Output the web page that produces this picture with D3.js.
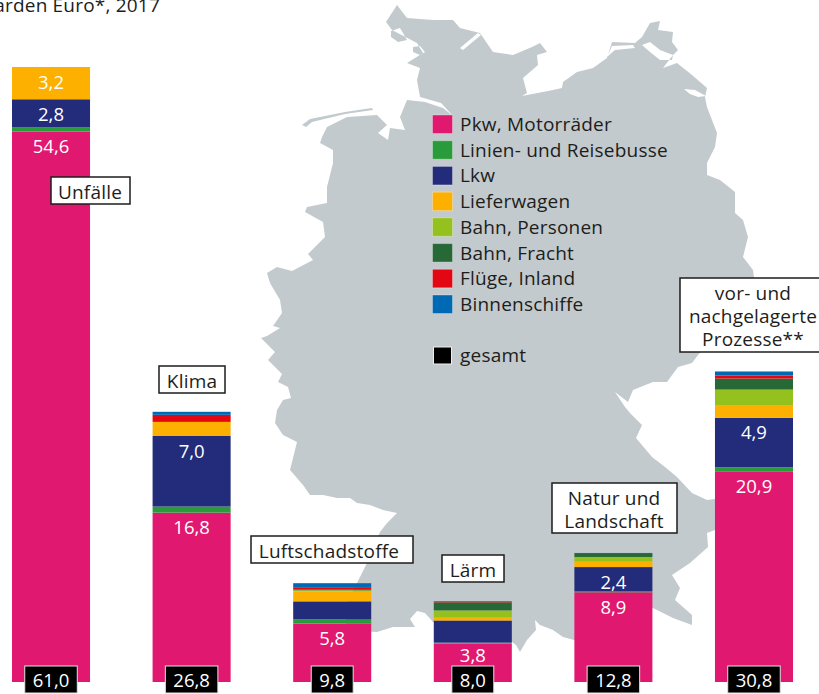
<!DOCTYPE html>
<html>
<head>
<meta charset="utf-8">
<script src="https://cdn.jsdelivr.net/npm/d3@7"></script>
<style>
    html, body { margin: 0; padding: 0; background: #fff; overflow: hidden; }
    text { font-family: "Open Sans", sans-serif; }
</style>
</head>
<body>
<div id="chart"></div>
<script>
const categories = ["Unfälle", "Klima", "Luftschadstoffe", "Lärm", "Natur und Landschaft", "vor- und nachgelagerte Prozesse**"];
const seriesNames = ["Pkw, Motorräder", "Linien- und Reisebusse", "Lkw", "Lieferwagen", "Bahn, Personen", "Bahn, Fracht", "Flüge, Inland", "Binnenschiffe"];
const seriesColors = ["#e1186f", "#2a9b3b", "#232c7a", "#fdb000", "#95c11f", "#266936", "#e30613", "#0069b4"];

const pkw = [54.6, 16.8, 5.8, 3.8, 8.9, 20.9];
const busse = [0.4, 0.6, 0.4, 0.1, 0.1, 0.4];
const lkw = [2.8, 7.0, 1.8, 2.2, 2.4, 4.9];
const lieferwagen = [3.2, 1.4, 1.0, 0.3, 0.55, 1.2];
const bahnPersonen = [0, 0, 0.1, 0.7, 0.45, 1.6];
const bahnFracht = [0, 0, 0.1, 0.8, 0.3, 1.1];
const fluege = [0, 0.7, 0.2, 0.1, 0, 0.3];
const schiffe = [0, 0.3, 0.4, 0, 0.1, 0.4];
const totals = [61.0, 26.8, 9.8, 8.0, 12.8, 30.8];

// category label boxes: text lines only, the boxes are placed further down
const labelLines = [["Unfälle"], ["Klima"], ["Luftschadstoffe"], ["Lärm"], ["Natur und", "Landschaft"], ["vor- und", "nachgelagerte", "Prozesse**"]];

// backdrop map, in picture units
const germanyOutline = [
    [397,5],[407,18],[433,20],[453,20],[460,28],[480,33],[493,52],[513,55],[532,47],[540,43],[547,52],[537,55],[538,65],
    [523,78],[527,93],[522,96],[553,90],[562,88],[563,82],[577,72],[593,68],[607,58],[612,42],[635,43],[642,37],[650,23],
    [660,21],[658,30],[673,32],[672,42],[678,50],[673,55],[663,68],[677,63],[692,75],[707,88],[705,97],[707,107],[717,133],
    [715,147],[707,163],[707,175],[720,180],[735,192],[735,213],[743,220],[748,237],[743,257],[753,270],[754,278],[745,305],
    [698,355],[692,363],[678,367],[667,382],[653,382],[633,390],[628,402],[615,392],[625,407],[630,413],[642,425],[636,438],
    [652,457],[665,467],[677,477],[692,493],[707,500],[730,497],[735,525],[715,530],[707,533],[708,547],[690,563],[672,575],
    [680,588],[675,600],[692,615],[692,625],[673,618],[653,608],[590,640],[574,640],[563,637],[553,630],[540,625],[535,620],
    [536,630],[527,640],[520,652],[516,645],[512,642],[480,635],[433,622],[425,613],[417,611],[410,619],[415,627],[393,627],
    [377,632],[345,630],[348,600],[357,583],[367,563],[380,532],[387,523],[397,513],[383,510],[370,505],[357,503],[350,498],
    [337,498],[323,495],[310,495],[303,485],[290,470],[297,442],[283,435],[275,423],[277,410],[283,400],[291,398],[288,387],
    [278,382],[282,374],[268,360],[275,352],[268,345],[261,338],[267,336],[280,328],[273,326],[282,313],[280,300],[270,283],
    [267,273],[277,267],[292,271],[313,260],[308,254],[325,237],[323,222],[305,212],[307,207],[327,203],[327,187],[333,163],
    [333,150],[320,143],[322,137],[327,127],[347,117],[377,115],[387,125],[378,133],[388,140],[390,128],[405,130],[400,117],
    [407,100],[425,102],[443,108],[453,116],[441,103],[420,97],[417,80],[420,68],[407,63],[423,53],[417,43],[392,30],[386,22],[397,5]
];
// inlets and lagoons cut out of the map
const germanyHoles = [
    [[391,31],[400,28],[407,40],[398,42],[391,37],[391,31]],
    [[413,47],[420,46],[425,52],[420,55],[413,52],[413,47]],
    [[460,48],[478,33],[481,35],[463,50],[460,48]],
    [[607,57],[612,46],[633,45],[635,48],[615,50],[607,57]],
    [[642,45],[650,52],[660,60],[672,60],[673,55],[660,50],[650,42],[642,45]],
    [[684,89],[695,90],[706,96],[698,97],[690,94],[684,89]]
];
// East Frisian islands, a thin strip off the coast
const frisianIslands = [[302,125],[310,119],[345,112],[372,108],[373,110],[345,114],[312,122],[306,127],[302,125]];

function draw_chart() {
    const width = 819, height = 694;
    const textSize = "19px";
    const textSpacing = "0.2px";

    const svg = d3.select("#chart")
        .append("svg")
        .attr("width", width)
        .attr("height", height);

    // map in the background
    const mapShape = {type: "MultiPolygon", coordinates: [[germanyOutline].concat(germanyHoles), [frisianIslands]]};
    svg.append("path")
        .datum(mapShape)
        .attr("d", d3.geoPath(d3.geoIdentity()))
        .attr("fill", "#c3cacd")
        .attr("fill-rule", "evenodd");

    // title, its left part runs off the cut edge of the picture
    svg.append("text")
        .attr("x", 160)
        .attr("y", 12)
        .attr("text-anchor", "end")
        .style("font-size", textSize)
        .style("letter-spacing", textSpacing)
        .attr("fill", "#1d1d1b")
        .text("Milliarden Euro*, 2017");

    // Build scales
    const x = d3.scaleBand()
        .domain(categories)
        .range([12, 793])
        .paddingInner(0.445)
        .paddingOuter(0);

    const y = d3.scaleLinear()
        .domain([0, 61])
        .range([682, 67]);

    const rows = categories.map((c, i) => {
        const row = {category: c};
        [pkw, busse, lkw, lieferwagen, bahnPersonen, bahnFracht, fluege, schiffe].forEach((s, j) => {
            row[seriesNames[j]] = s[i];
        });
        return row;
    });
    const stacked = d3.stack().keys(seriesNames)(rows);
    const color = d3.scaleOrdinal().domain(seriesNames).range(seriesColors);

    // stacked bars
    const layers = svg.selectAll(".layer")
        .data(stacked)
        .join("g")
        .attr("class", "layer")
        .attr("fill", d => color(d.key));

    layers.selectAll("rect")
        .data(d => d)
        .join("rect")
        .attr("x", d => x(d.data.category))
        .attr("y", d => y(d[1]))
        .attr("width", x.bandwidth())
        .attr("height", d => y(d[0]) - y(d[1]));

    // value labels, only the segments big enough to hold one
    const boxTop = 666;
    layers.selectAll("text")
        .data(d => d.filter(v => v[1] - v[0] >= 2.4))
        .join("text")
        .attr("x", d => x(d.data.category) + x.bandwidth() / 2)
        .attr("y", d => Math.min(y(d[1]) + 21.5, boxTop - 4))
        .attr("text-anchor", "middle")
        .attr("fill", "#fff")
        .style("font-size", "18.5px")
        .text(d => d3.format(".1f")(d[1] - d[0]).replace(".", ","));

    // totals in the black boxes
    const totalGroups = svg.selectAll(".total")
        .data(totals)
        .join("g")
        .attr("class", "total");

    const totalText = totalGroups.append("text")
        .attr("x", (d, i) => x(categories[i]) + x.bandwidth() / 2)
        .attr("y", 687)
        .attr("text-anchor", "middle")
        .attr("fill", "#fff")
        .style("font-size", "18.5px")
        .text(d => d3.format(".1f")(d).replace(".", ","));

    totalText.each(function() {
        const w = this.getComputedTextLength();
        const cx = +this.getAttribute("x");
        d3.select(this.parentNode).insert("rect", "text")
            .attr("x", cx - w / 2 - 8)
            .attr("y", boxTop)
            .attr("width", w + 16)
            .attr("height", 27)
            .attr("fill", "#000")
            .attr("stroke", "#e3e3e3")
            .attr("stroke-width", 1);
    });

    // category label boxes
    const boxes = [
        {left: 51, top: 177, right: 130, bottom: 204, cx: 90},
        {left: 159, top: 366, right: 225, bottom: 393, cx: 192},
        {left: 251, top: 536, right: 413, bottom: 563, cx: 329},
        {left: 442, top: 555, right: 504, bottom: 582, cx: 473},
        {left: 552, top: 483, right: 677, bottom: 533, cx: 614},
        {left: 680, top: 278, right: 830, bottom: 352, cx: 753}
    ];

    const labels = svg.selectAll(".label")
        .data(labelLines)
        .join("g")
        .attr("class", "label");

    labels.append("rect")
        .attr("x", (d, i) => boxes[i].left)
        .attr("y", (d, i) => boxes[i].top)
        .attr("width", (d, i) => boxes[i].right - boxes[i].left)
        .attr("height", (d, i) => boxes[i].bottom - boxes[i].top)
        .attr("fill", "#fff")
        .attr("stroke", "#1d1d1b")
        .attr("stroke-width", 1.5);

    labels.each(function(lines, i) {
        d3.select(this).selectAll("text")
            .data(lines)
            .join("text")
            .attr("x", boxes[i].cx)
            .attr("y", (d, k) => boxes[i].top + 21.5 + k * 23)
            .attr("text-anchor", "middle")
            .attr("fill", "#1d1d1b")
            .style("font-size", textSize)
            .style("letter-spacing", textSpacing)
            .text(d => d);
    });

    // legend
    const legend = svg.append("g");
    const legendY = d3.scalePoint().domain(seriesNames).range([115, 295]);

    legend.selectAll("rect")
        .data(seriesNames)
        .join("rect")
        .attr("x", 432.5)
        .attr("y", d => legendY(d))
        .attr("width", 20)
        .attr("height", 18.5)
        .attr("fill", d => color(d))
        .attr("stroke", "#fff")
        .attr("stroke-opacity", 0.3)
        .attr("stroke-width", 1);

    legend.selectAll("text")
        .data(seriesNames)
        .join("text")
        .attr("x", 460)
        .attr("y", d => legendY(d) + 16)
        .attr("fill", "#1d1d1b")
        .style("font-size", textSize)
        .style("letter-spacing", textSpacing)
        .text(d => d);

    legend.append("rect")
        .attr("x", 433.5)
        .attr("y", 347)
        .attr("width", 18)
        .attr("height", 17)
        .attr("fill", "#000")
        .attr("stroke", "#eee")
        .attr("stroke-width", 1);

    legend.append("text")
        .attr("x", 460)
        .attr("y", 362)
        .attr("fill", "#1d1d1b")
        .style("font-size", textSize)
        .style("letter-spacing", textSpacing)
        .text("gesamt");
}

draw_chart();
</script>
</body>
</html>
